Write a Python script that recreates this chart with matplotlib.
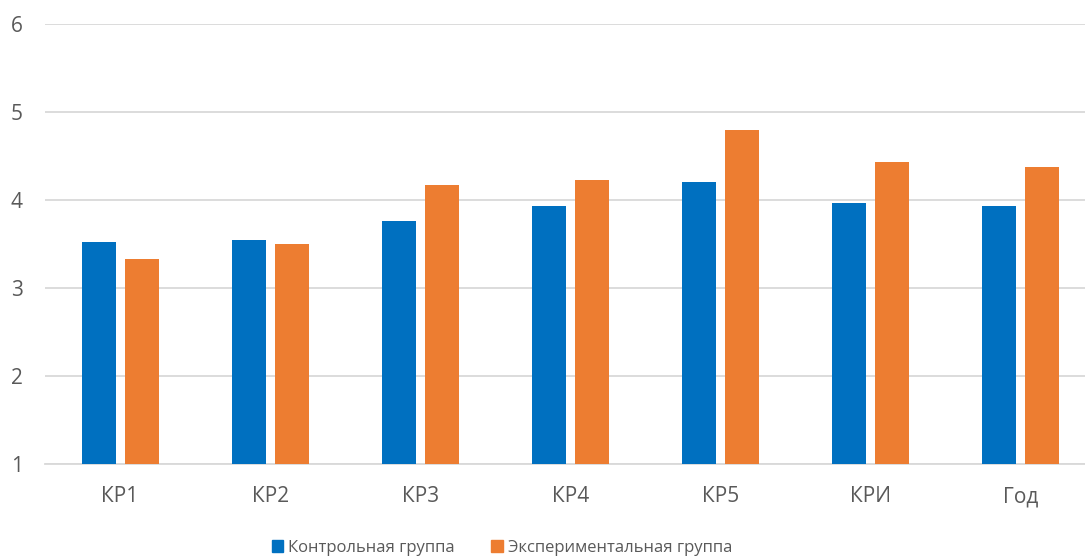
import numpy as np
import matplotlib.pyplot as plt
from matplotlib.patches import Patch

categories = ['КР1', 'КР2', 'КР3', 'КР4', 'КР5', 'КРИ', 'Год']
control = [3.52, 3.55, 3.76, 3.93, 4.21, 3.97, 3.93]
experimental = [3.33, 3.50, 4.17, 4.23, 4.80, 4.43, 4.37]
series_names = ['Контрольная группа', 'Экспериментальная группа']

blue = '#0070C0'
orange = '#ED7D31'
text_color = '#595959'
grid_color = '#D9D9D9'

plt.rcParams['font.family'] = ['Open Sans', 'DejaVu Sans']

fig = plt.figure(figsize=(10.85, 5.59), dpi=100)
W, H = 1085, 559
ax = fig.add_axes([45 / W, (H - 464) / H, 1051 / W, 440 / H])

x = np.arange(len(categories))
bar_w = 0.227
offset = 0.143
ax.bar(x - offset, np.array(control) - 1, bar_w, bottom=1, color=blue, zorder=3)
ax.bar(x + offset, np.array(experimental) - 1, bar_w, bottom=1, color=orange, zorder=3)

ax.set_xlim(-0.5, len(categories) - 0.5)
ax.set_ylim(1, 6)
ax.set_yticks(range(1, 7))
ax.set_xticks(x)
ax.set_xticklabels(categories)
ax.grid(axis='y', color=grid_color, linewidth=1.3, zorder=0)
ax.set_axisbelow(True)

for s in ['top', 'right', 'left']:
    ax.spines[s].set_visible(False)
ax.spines['bottom'].set_color(grid_color)
ax.spines['bottom'].set_linewidth(1.3)
ax.tick_params(axis='both', length=0, labelsize=15, colors=text_color)
ax.tick_params(axis='y', pad=16)
ax.tick_params(axis='x', pad=16)

handles = [Patch(color=blue, label=series_names[0]),
           Patch(color=orange, label=series_names[1])]
fig.legend(handles=handles, loc='center', bbox_to_anchor=(502 / W, 1 - 548 / H),
           ncol=2, frameon=False, fontsize=12, labelcolor=text_color,
           handlelength=0.7, handleheight=0.7, handletextpad=0.3,
           columnspacing=2.2, borderpad=0)

fig.savefig('out.png', dpi=100)
